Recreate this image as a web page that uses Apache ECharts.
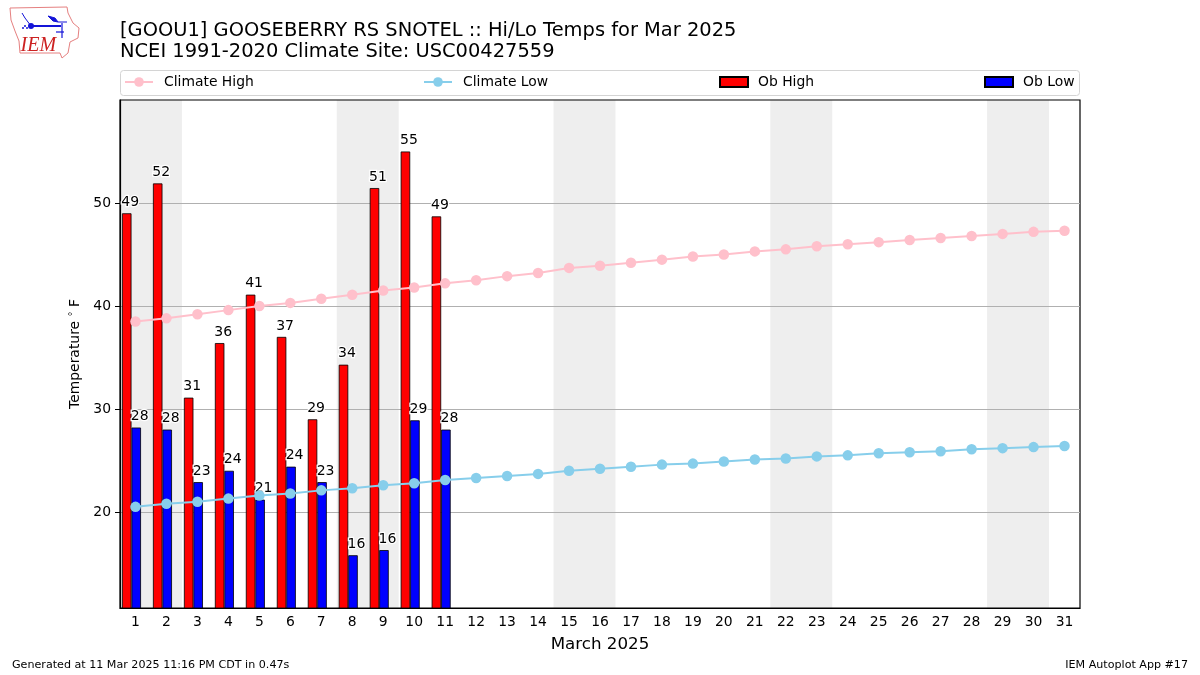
<!DOCTYPE html>
<html><head><meta charset="utf-8">
<style>html,body{margin:0;padding:0;background:#fff}#c{width:1200px;height:675px}</style>
<script src="https://cdn.jsdelivr.net/npm/echarts@6/dist/echarts.min.js"></script>
</head><body><div id="c"></div>
<script>
const days = Array.from({length:31},(_, i)=>String(i+1));
const climateHigh = [38.5,38.8,39.2,39.6,40.0,40.3,40.7,41.1,41.5,41.8,42.2,42.5,42.9,43.2,43.7,43.9,44.2,44.5,44.8,45.0,45.3,45.5,45.8,46.0,46.2,46.4,46.6,46.8,47.0,47.2,47.3];
const climateLow = [20.5,20.8,21.0,21.3,21.6,21.8,22.1,22.3,22.6,22.8,23.1,23.3,23.5,23.7,24.0,24.2,24.4,24.6,24.7,24.9,25.1,25.2,25.4,25.5,25.7,25.8,25.9,26.1,26.2,26.3,26.4];
const obHigh = [49.0,51.9,31.1,36.4,41.1,37.0,29.0,34.3,51.45,55.0,48.7];
const obLow = [28.2,28.0,22.9,24.0,21.2,24.4,22.9,15.8,16.3,28.9,28.0];
const weekends = [[0.5,2.5],[7.5,9.5],[14.5,16.5],[21.5,23.5],[28.5,30.5]];
const yTicks = [20,30,40,50];
const F = 'DejaVu Sans';
const barLabel = {show:true,position:'top',distance:4,offset:[3.5,0],color:'#000',fontFamily:F,fontSize:14,
  textBorderColor:'#fff',textBorderWidth:2.5,formatter:p=>Math.round(p.value)};
const legendBase = {orient:'horizontal',top:75,itemWidth:28,itemHeight:10,padding:0,
  textStyle:{fontFamily:F,fontSize:13.9,color:'#000',padding:[0,0,0,6]}};
const rectLegendText = {fontFamily:F,fontSize:13.9,color:'#000',padding:[0,0,0,5]};
const chart = echarts.init(document.getElementById('c'),null,{renderer:'canvas'});
chart.setOption({
  animation:false,backgroundColor:'#fff',
  title:[
    {text:'[GOOU1] GOOSEBERRY RS SNOTEL :: Hi/Lo Temps for Mar 2025\nNCEI 1991-2020 Climate Site: USC00427559',left:120,top:20,padding:0,
     textStyle:{fontFamily:F,fontSize:19.46,fontWeight:'normal',color:'#000',lineHeight:21.5}},
    {text:'Generated at 11 Mar 2025 11:16 PM CDT in 0.47s',left:12,top:660,padding:0,textStyle:{fontFamily:F,fontSize:11.12,fontWeight:'normal',color:'#000'}},
    {text:'IEM Autoplot App #17',right:12,top:660,padding:0,textStyle:{fontFamily:F,fontSize:11.12,fontWeight:'normal',color:'#000'}}
  ],
  legend:[
    Object.assign({},legendBase,{left:124,itemHeight:12,data:['Climate High']}),
    Object.assign({},legendBase,{left:423,itemHeight:12,data:['Climate Low']}),
    Object.assign({},legendBase,{left:719,textStyle:rectLegendText,data:[{name:'Ob High',icon:'rect'}]}),
    Object.assign({},legendBase,{left:984,textStyle:rectLegendText,data:[{name:'Ob Low',icon:'rect'}]})
  ],
  grid:{left:120,right:120,top:100,bottom:67,show:true,borderColor:'#000',borderWidth:1.2,backgroundColor:'transparent'},
  xAxis:[
    {type:'category',data:days,boundaryGap:true,name:'March 2025',nameLocation:'middle',nameGap:28,
     nameTextStyle:{fontFamily:F,fontSize:16.7,color:'#000'},
     axisLine:{lineStyle:{color:'#000',width:1.2}},axisTick:{alignWithLabel:true,length:5,lineStyle:{color:'#000',width:1}},
     axisLabel:{interval:0,fontFamily:F,fontSize:13.9,color:'#000',margin:7},splitLine:{show:false}},
    {type:'value',min:0.5,max:31.5,show:false,splitLine:{show:false}}
  ],
  yAxis:{type:'value',min:10.68,max:60,
     name:'Temperature {d|°} F',nameLocation:'middle',nameGap:36,
     nameTextStyle:{fontFamily:F,fontSize:13.9,color:'#000',rich:{d:{fontFamily:F,fontSize:10,color:'#000',verticalAlign:'top'}}},
     axisLine:{show:true,lineStyle:{color:'#000',width:1.2}},axisTick:{show:true,length:5,customValues:yTicks,lineStyle:{color:'#000',width:1}},
     axisLabel:{fontFamily:F,fontSize:13.9,color:'#000',margin:9,customValues:yTicks},
     splitLine:{show:true,lineStyle:{color:'#b0b0b0',width:1}}},
  series:[
    {name:'weekends',type:'line',xAxisIndex:1,yAxisIndex:0,data:[],z:-1,silent:true,
     markArea:{silent:true,z:-1,itemStyle:{color:'#eeeeee'},data:weekends.map(w=>[{xAxis:w[0]},{xAxis:w[1]}])}},
    {name:'Ob High',type:'bar',data:obHigh,barWidth:9.5,barGap:0,itemStyle:{color:'#ff0000',borderColor:'#000',borderWidth:0.8},label:barLabel},
    {name:'Ob Low',type:'bar',data:obLow,barWidth:9.5,barGap:0,itemStyle:{color:'#0000ff',borderColor:'#000',borderWidth:0.8},label:barLabel},
    {name:'spacer',type:'bar',data:[],barWidth:8,barGap:0},
    {name:'Climate High',type:'line',data:climateHigh,symbol:'circle',symbolSize:10.5,color:'#ffc0cb',lineStyle:{color:'#ffc0cb',width:2},itemStyle:{color:'#ffc0cb'}},
    {name:'Climate Low',type:'line',data:climateLow,symbol:'circle',symbolSize:10.5,color:'#87ceeb',lineStyle:{color:'#87ceeb',width:2},itemStyle:{color:'#87ceeb'}}
  ],
  graphic:[
    {type:'rect',shape:{x:120.5,y:70.5,width:959,height:25,r:3},style:{fill:'#fff',stroke:'#d4d4d4',lineWidth:1},z:-10,silent:true},
    {type:'polyline',shape:{points:[[10,8],[67,7],[68,13],[73,23],[79,28],[78,38],[70,42],[68,53],[62,58],[60,53],[20,53],[19,41],[15,31],[11,20],[10,8]]},style:{fill:'none',stroke:'#e58080',lineWidth:1},silent:true},
    {type:'text',left:20.5,top:36,style:{text:'IEM',fill:'#cc2222',font:'italic 20px "Liberation Serif"'},silent:true},
    {type:'polyline',shape:{points:[[31,26],[61,26]]},style:{stroke:'#1414d8',fill:'none',lineWidth:2},silent:true},
    {type:'polyline',shape:{points:[[31,26],[25,18],[22,13]]},style:{stroke:'#1414d8',fill:'none',lineWidth:1},silent:true},
    {type:'polyline',shape:{points:[[48,16],[55,18],[58,22],[53,21],[48,16]]},style:{stroke:'#1414d8',fill:'#1414d8',lineWidth:1},silent:true},
    {type:'polyline',shape:{points:[[58,22],[67,22]]},style:{stroke:'#1414d8',fill:'none',lineWidth:1},silent:true},
    {type:'polyline',shape:{points:[[62,23],[62,38]]},style:{stroke:'#1414d8',fill:'none',lineWidth:1.2},silent:true},
    {type:'polyline',shape:{points:[[56,32],[64,32]]},style:{stroke:'#1414d8',fill:'none',lineWidth:1.2},silent:true},
    {type:'circle',shape:{cx:31,cy:26,r:3},style:{fill:'#1414d8'},silent:true},
    {type:'circle',shape:{cx:25,cy:26,r:1},style:{fill:'#1414d8'},silent:true},
    {type:'circle',shape:{cx:23,cy:28,r:1},style:{fill:'#1414d8'},silent:true},
    {type:'circle',shape:{cx:27,cy:28,r:1},style:{fill:'#1414d8'},silent:true}
  ]
});
</script></body></html>
